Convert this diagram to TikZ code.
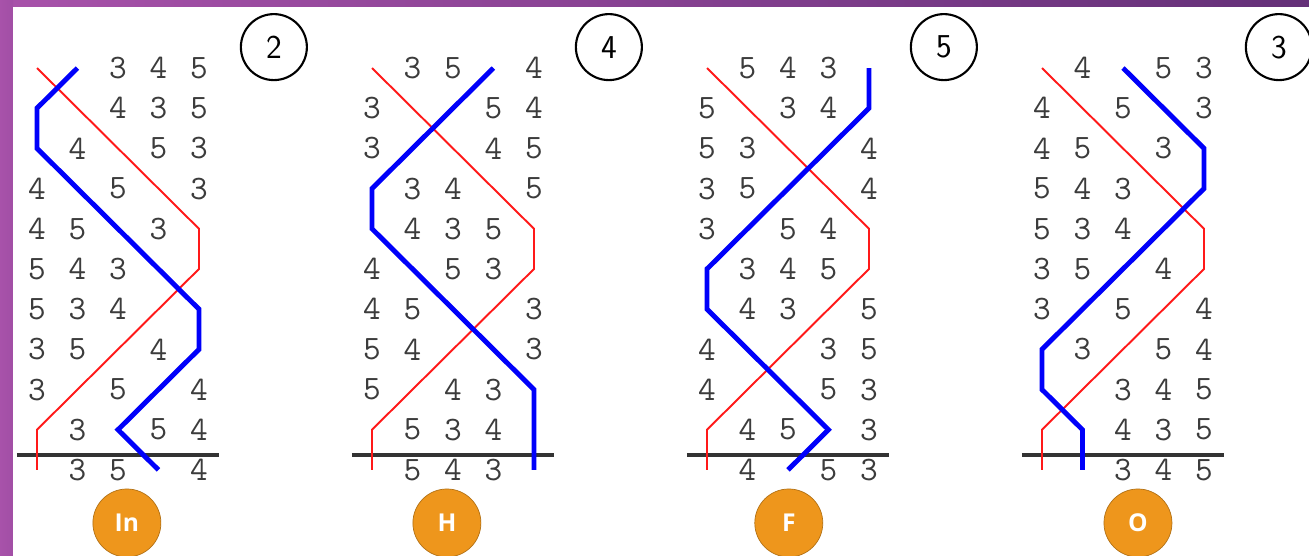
\documentclass[tikz,border=0pt]{standalone}
\usepackage{xcolor}
\usepackage{fontspec}
\usepackage{tikz}
\usetikzlibrary{positioning}
\newfontfamily\badgefont{Open Sans}
\definecolor{bellred}{RGB}{255,25,25}
\definecolor{bellblue}{RGB}{0,0,250}
\definecolor{digitcolor}{RGB}{60,60,60}
\definecolor{badgecolor}{RGB}{238,150,28}
\definecolor{frameleft}{RGB}{168,82,170}
\definecolor{frameright}{RGB}{100,48,120}
\tikzset{
  digit/.style={inner sep=0pt, text=digitcolor,
                font=\ttfamily\fontsize{19.5}{19.5}\selectfont},
  redline/.style={draw=bellred, line width=1.1pt},
  blueline/.style={draw=bellblue, line width=2.8pt},
  rulebar/.style={draw=black!80, line width=1.9pt},
  leadnum/.style={circle, draw, line width=1.2pt, minimum size=1.32cm,
                  inner sep=0pt, font=\sffamily\fontsize{19}{19}\selectfont},
  badge/.style={circle, fill=badgecolor, draw=badgecolor!75!black, thin,
                minimum size=1.36cm, inner sep=0pt, text=white,
                font=\badgefont\bfseries\fontsize{14}{14}\selectfont},
}
% #1 x shift, #2 lead bell, #3 badge, #4 badge x, #5 blue path, #6 rows
\newcommand{\bellpanel}[6]{%
  \begin{scope}[shift={(#1,68)}, x=0.81cm, y=-0.804cm]
    \foreach \cells [count=\r from 0] in {#6} {
      \foreach \c/\d in \cells { \node[digit] (#3-\r-\c) at (\c,\r) {\d}; }
    }
    \draw[rulebar] (-0.5,9.63) -- (4.5,9.63);
    \draw[redline] (0,0) -- (4,4) -- (4,5) -- (0,9) -- (0,10);
    \draw[blueline] #5;
    \node[leadnum] (lead-#3) at (5.85,-0.52) {#2};
    \node[badge] (badge-#3) at (#4,11.32) {#3};
  \end{scope}}

\begin{document}
\begin{tikzpicture}[x=0.02cm, y=-0.02cm]

  % --- Frame ---
  \useasboundingbox (0,0) rectangle (1309,555);
  \shade[left color=frameleft, right color=frameright] (0,0) rectangle (1309,6.5);
  \shade[left color=frameleft, right color=frameleft!90!frameright] (0,0) rectangle (13,555);
  \fill[white] (13,6.5) rectangle (1315,560);

  % --- Panels ---
  \bellpanel{37}{2}{In}{2.22}
    {(1,0) -- (0,1) -- (0,2) -- (4,6) -- (4,7) -- (2,9) -- (3,10)}
    {{2/3,3/4,4/5},{2/4,3/3,4/5},{1/4,3/5,4/3},{0/4,2/5,4/3},
     {0/4,1/5,3/3},{0/5,1/4,2/3},{0/5,1/3,2/4},{0/3,1/5,3/4},
     {0/3,2/5,4/4},{1/3,3/5,4/4},{1/3,2/5,4/4}}

  \bellpanel{372}{4}{H}{1.85}
    {(3,0) -- (0,3) -- (0,4) -- (4,8) -- (4,10)}
    {{1/3,2/5,4/4},{0/3,3/5,4/4},{0/3,3/4,4/5},{1/3,2/4,4/5},
     {1/4,2/3,3/5},{0/4,2/5,3/3},{0/4,1/5,4/3},{0/5,1/4,4/3},
     {0/5,2/4,3/3},{1/5,2/3,3/4},{1/5,2/4,3/3}}

  \bellpanel{707}{5}{F}{2.02}
    {(4,0) -- (4,1) -- (0,5) -- (0,6) -- (3,9) -- (2,10)}
    {{1/5,2/4,3/3},{0/5,2/3,3/4},{0/5,1/3,4/4},{0/3,1/5,4/4},
     {0/3,2/5,3/4},{1/3,2/4,3/5},{1/4,2/3,4/5},{0/4,3/3,4/5},
     {0/4,3/5,4/3},{1/4,2/5,4/3},{1/4,3/5,4/3}}

  \bellpanel{1042}{3}{O}{2.37}
    {(2,0) -- (4,2) -- (4,3) -- (0,7) -- (0,8) -- (1,9) -- (1,10)}
    {{1/4,3/5,4/3},{0/4,2/5,4/3},{0/4,1/5,3/3},{0/5,1/4,2/3},
     {0/5,1/3,2/4},{0/3,1/5,3/4},{0/3,2/5,4/4},{1/3,3/5,4/4},
     {2/3,3/4,4/5},{2/4,3/3,4/5},{2/3,3/4,4/5}}

\end{tikzpicture}
\end{document}
